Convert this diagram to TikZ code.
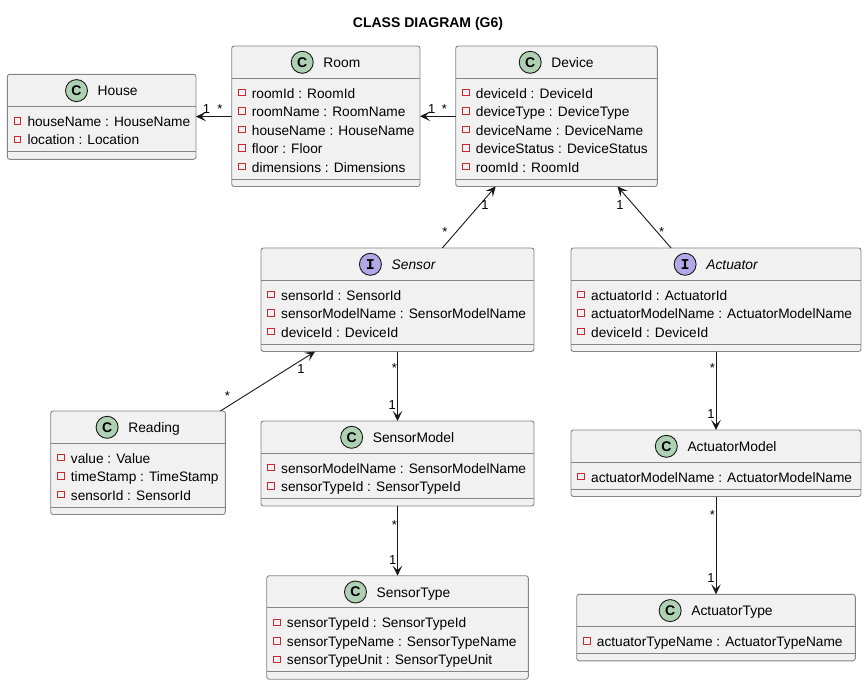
\documentclass[tikz,border=0pt]{standalone}
\usepackage{fontspec}
\setmainfont{Liberation Sans}
\newfontfamily\monob{Liberation Mono}
\usetikzlibrary{arrows.meta,calc}
\definecolor{boxfill}{HTML}{F1F1F1}
\definecolor{boxline}{HTML}{858585}
\definecolor{cfill}{HTML}{ADD1B2}
\definecolor{ifill}{HTML}{B4A7E5}
\definecolor{priv}{HTML}{C82930}
\definecolor{ink}{HTML}{181818}
\tikzset{
 classbox/.style={rectangle, rounded corners=2.5pt, draw=boxline, fill=boxfill, line width=0.9pt, inner sep=0pt, outer sep=0pt},
 sepline/.style={draw=boxline, line width=0.9pt},
 clsname/.style={inner sep=0pt, anchor=base, text height=10.4pt, text depth=0pt, font=\fontsize{13.8}{16}\selectfont},
 kindC/.style={circle, minimum size=22pt, inner sep=0pt, fill=cfill, draw=ink, line width=0.9pt, font=\fontsize{14}{16}\selectfont\bfseries},
 kindI/.style={kindC, fill=ifill, font=\fontsize{15}{16}\selectfont\monob\bfseries},
 attr/.style={inner sep=0pt, anchor=base west, font=\fontsize{13.7}{16}\selectfont},
 privmark/.style={rectangle, minimum size=6.5pt, inner sep=0pt, draw=priv, line width=0.8pt},
 assoc/.style={draw=ink, line width=0.9pt, -{Stealth[length=10pt,width=9.5pt,inset=4.5pt]}},
 mult/.style={inner sep=0pt, anchor=base, font=\fontsize{13}{15}\selectfont},
 titletext/.style={inner sep=0pt, anchor=base, font=\fontsize{14}{16}\selectfont\bfseries},
}
% #1 name, #2 left, #3 top, #4 right, #5 number of attributes, #6 kind (C/I), #7 title, #8 attributes
\newcommand\umlclass[8]{%
 \pgfmathsetmacro\uw{#4-#2}%
 \pgfmathsetmacro\uh{48+18.5*#5}%
 \node[classbox, minimum width=\uw pt, minimum height=\uh pt, anchor=north west] (#1) at (#2,#3) {};
 \draw[sepline] ([yshift=-32pt]#1.north west) -- ([yshift=-32pt]#1.north east);
 \draw[sepline] ([yshift=7.5pt]#1.south west) -- ([yshift=7.5pt]#1.south east);
 \node[clsname] (#1-t) at ({(#2+#4)/2+16},{#3+21.5}) {#7};
 \node[kind#6] (#1-c) at ([xshift=-21pt]#1-t.west) {#6};
 \foreach \a [count=\i] in {#8} {
   \pgfmathsetmacro\by{#3+52+18.5*(\i-1)}
   \node[attr] (#1-a\i) at (#2+20,\by) {\a};
   \node[privmark] (#1-m\i) at (#2+10,\by-5.5) {};
 }
}
\begin{document}
\begin{tikzpicture}[x=1pt,y=-1pt]
\fill[white] (0,0) rectangle (867,685);
\useasboundingbox (0,0) rectangle (867,685);

\node[titletext] (title) at (428,27.7) {CLASS DIAGRAM (G6)};

\umlclass{house}{7.3}{74.3}{196}{2}{C}{House}{houseName : HouseName, location : Location}
\umlclass{room}{231.7}{46}{420}{5}{C}{Room}{roomId : RoomId, roomName : RoomName, houseName : HouseName, floor : Floor, dimensions : Dimensions}
\umlclass{device}{455.7}{46}{657.3}{5}{C}{Device}{deviceId : DeviceId, deviceType : DeviceType, deviceName : DeviceName, deviceStatus : DeviceStatus, roomId : RoomId}
\umlclass{sensor}{261}{248}{534}{3}{I}{\itshape Sensor}{sensorId : SensorId, sensorModelName : SensorModelName, deviceId : DeviceId}
\umlclass{actuator}{571}{248}{861}{3}{I}{\itshape Actuator}{actuatorId : ActuatorId, actuatorModelName : ActuatorModelName, deviceId : DeviceId}
\umlclass{reading}{50.7}{411}{225.3}{3}{C}{Reading}{value : Value, timeStamp : TimeStamp, sensorId : SensorId}
\umlclass{sensormodel}{261}{421}{534}{2}{C}{SensorModel}{sensorModelName : SensorModelName, sensorTypeId : SensorTypeId}
\umlclass{sensortype}{266.7}{575.7}{528.3}{3}{C}{SensorType}{sensorTypeId : SensorTypeId, sensorTypeName : SensorTypeName, sensorTypeUnit : SensorTypeUnit}
\umlclass{actuatormodel}{571}{430}{861}{1}{C}{ActuatorModel}{actuatorModelName : ActuatorModelName}
\umlclass{actuatortype}{576.7}{594.3}{855.3}{1}{C}{ActuatorType}{actuatorTypeName : ActuatorTypeName}

\draw[assoc] (room) -- (house);
\draw[assoc] (device) -- (room);
\draw[assoc] (sensor) -- (device);
\draw[assoc] (actuator) -- (device);
\draw[assoc] (reading) -- (sensor);
\draw[assoc] (sensor) -- (sensormodel);
\draw[assoc] (sensormodel) -- (sensortype);
\draw[assoc] (actuator) -- (actuatormodel);
\draw[assoc] (actuatormodel) -- (actuatortype);

\node[mult] (l-rh1) at (206.5,113) {1};
\node[mult] (l-rh2) at (220,113) {*};
\node[mult] (l-dr1) at (431.7,113) {1};
\node[mult] (l-dr2) at (444.3,113) {*};
\node[mult] (l-sd1) at (485,209.6) {1};
\node[mult] (l-sd2) at (445,236.8) {*};
\node[mult] (l-ad1) at (620,209.6) {1};
\node[mult] (l-ad2) at (661.7,236.8) {*};
\node[mult] (l-rs1) at (301,373.6) {1};
\node[mult] (l-rs2) at (227.3,400.2) {*};
\node[mult] (l-sm2) at (394.3,372.5) {*};
\node[mult] (l-sm1) at (392.3,409.6) {1};
\node[mult] (l-st2) at (394.3,529.2) {*};
\node[mult] (l-st1) at (392.7,564.6) {1};
\node[mult] (l-am2) at (712.3,372.5) {*};
\node[mult] (l-am1) at (711,418) {1};
\node[mult] (l-at2) at (712.3,519.2) {*};
\node[mult] (l-at1) at (711,582) {1};
\end{tikzpicture}
\end{document}
